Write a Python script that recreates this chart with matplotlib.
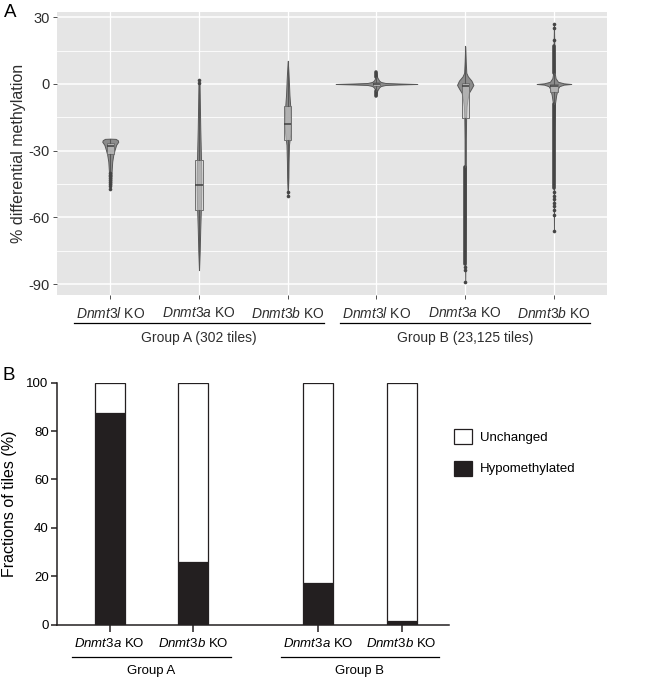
import matplotlib.pyplot as plt
from matplotlib.transforms import blended_transform_factory
from matplotlib.lines import Line2D

plt.rcParams['font.family'] = 'Liberation Sans'
plt.rcParams['mathtext.fontset'] = 'custom'
plt.rcParams['mathtext.rm'] = 'Liberation Sans'
plt.rcParams['mathtext.it'] = 'Liberation Sans:italic'
plt.rcParams['axes.unicode_minus'] = False

# ___ PANEL A DATA ___ #
GENES_A = ['Dnmt3l', 'Dnmt3a', 'Dnmt3b', 'Dnmt3l', 'Dnmt3a', 'Dnmt3b']
GROUP_NAMES_A = ['Group A (302 tiles)', 'Group B (23,125 tiles)']

# violin outlines: y (% diff. methylation) and half width (category units)
V1_Y = [-47.2, -45.4, -39.4, -34.9, -31.9, -29.6, -27.4, -26.0, -25.3, -24.7, -24.6]
V1_W = [0.0, 0.011, 0.015, 0.022, 0.034, 0.049, 0.066, 0.09, 0.085, 0.06, 0.0]
V2_Y = [1.9, 0.0, -10, -20, -30, -40, -45, -55, -65, -75, -83.6]
V2_W = [0.0, 0.006, 0.010, 0.014, 0.020, 0.025, 0.026, 0.022, 0.014, 0.008, 0.0]
V3_Y = [10.4, 5.0, 2.6, -4.9, -10, -15, -18, -22, -27.4, -35, -42, -50.2]
V3_W = [0.0, 0.008, 0.011, 0.019, 0.028, 0.033, 0.034, 0.030, 0.014, 0.009, 0.007, 0.0]
V4_Y = [-5.3, -3.0, -1.5, -0.9, -0.45, -0.23, 0.0, 0.23, 0.45, 0.9, 1.5, 3.0, 5.3]
V4_W = [0.0, 0.008, 0.03, 0.05, 0.10, 0.25, 0.46, 0.25, 0.10, 0.05, 0.03, 0.008, 0.0]
V5_Y = [16.9, 10, 5, 3.4, 1.5, -0.4, -2, -4, -7, -10, -15, -25, -60, -89.2]
V5_W = [0.0, 0.006, 0.012, 0.03, 0.07, 0.092, 0.07, 0.04, 0.025, 0.015, 0.010, 0.007, 0.006, 0.0]
V6_Y = [27, 15, 5, 2.6, 1.0, 0.3, 0.0, -0.3, -1.0, -2.0, -3.4, -5.0, -8.6, -20, -66.1]
V6_W = [0.0, 0.005, 0.008, 0.018, 0.045, 0.11, 0.195, 0.11, 0.06, 0.045, 0.035, 0.025, 0.012, 0.006, 0.0]

# boxplot statistics
BOX_Q3 = [-26.5, -34.1, -10.1, 0.9, 0.4, 0.0]
BOX_MED = [-27.8, -45.4, -17.9, 0.0, -0.7, -0.9]
BOX_Q1 = [-31.5, -56.6, -25.4, -1.0, -15.1, -3.5]
WHISK_HI = [-24.7, -1.0, 10.4, 3.0, 16.9, 5.0]
WHISK_LO = [-39.4, -83.6, -46.7, -3.0, -37.5, -8.8]

# outliers (single points) and dense runs of outliers
FLIERS = [
    [-40.0, -40.8, -41.6, -42.5, -43.3, -44.2, -45.0, -46.0, -47.2],
    [0.3, 1.9],
    [-48.4, -50.2],
    [],
    [-82.2, -83.5, -89.2],
    [19.9, 25.1, 27.0, -48.5, -50.3, -51.8, -53.5, -55.0, -56.5, -58.9, -66.1],
]
BAND_POS = [4, 4, 5, 6, 6]
BAND_LO = [3.0, -5.3, -81.0, 5.0, -47.0]
BAND_HI = [5.3, -3.0, -37.5, 17.3, -8.8]

# ___ PANEL B DATA ___ #
GENES_B = ['Dnmt3a', 'Dnmt3b', 'Dnmt3a', 'Dnmt3b']
GROUP_NAMES_B = ['Group A', 'Group B']
HYPO = [87.5, 25.8, 17.2, 1.6]
UNCHANGED = [12.5, 74.2, 82.8, 98.4]
POS_B = [1, 2, 3.5, 4.5]

VIOLIN_FILL = '#8c8c8c'
VIOLIN_EDGE = '#575757'
DOT = '#454545'
BG = '#e5e5e5'
TXT_A = '#2e2e2e'


def ko_label(gene):
    return r'$\it{' + gene + '}$ KO'


fig = plt.figure(figsize=(6.45, 6.79), dpi=100)

# ---------------- panel A ---------------- #
ax = fig.add_axes([0.0884, 0.5655, 0.853, 0.4172])
ax.set_facecolor(BG)
for s in ax.spines.values():
    s.set_visible(False)
ax.set_xlim(0.4, 6.6)
ax.set_ylim(-94.95, 32.5)
ax.set_yticks([-90, -60, -30, 0, 30])
ax.set_yticks([-75, -45, -15, 15], minor=True)
ax.set_xticks(range(1, 7))
ax.set_xticklabels([ko_label(g) for g in GENES_A])
ax.grid(which='major', axis='y', color='white', lw=1.1)
ax.grid(which='major', axis='x', color='white', lw=0.9)
ax.grid(which='minor', axis='y', color='white', lw=0.6)
ax.set_axisbelow(True)
ax.tick_params(which='major', length=3, width=0.6, color='#333333',
               labelsize=10.5, labelcolor=TXT_A)
ax.tick_params(axis='x', labelsize=10, pad=5)
ax.tick_params(axis='y', pad=2)
ax.tick_params(which='minor', length=0)
ax.set_ylabel('% differential methylation', fontsize=11.5, color=TXT_A, labelpad=2)

violins = [(V1_Y, V1_W), (V2_Y, V2_W), (V3_Y, V3_W),
           (V4_Y, V4_W), (V5_Y, V5_W), (V6_Y, V6_W)]
for i, (vy, vw) in enumerate(violins):
    x = i + 1
    ax.fill_betweenx(vy, [x - w for w in vw], [x + w for w in vw],
                     facecolor=VIOLIN_FILL, edgecolor=VIOLIN_EDGE, lw=0.7, zorder=2)

ax.vlines(BAND_POS, BAND_LO, BAND_HI, color=DOT, lw=2.6, capstyle='round', zorder=3)

stats = []
for i in range(6):
    stats.append(dict(q1=BOX_Q1[i], med=BOX_MED[i], q3=BOX_Q3[i],
                      whislo=WHISK_LO[i], whishi=WHISK_HI[i], fliers=FLIERS[i]))
ax.bxp(stats, positions=range(1, 7), widths=0.083, patch_artist=True,
       showcaps=False, manage_ticks=False,
       boxprops=dict(facecolor=(0.82, 0.82, 0.82, 0.55), edgecolor='#707070', lw=0.7),
       medianprops=dict(color='#404040', lw=1.1),
       whiskerprops=dict(color=VIOLIN_EDGE, lw=0.8),
       flierprops=dict(marker='o', ms=2.6, mfc=DOT, mec=DOT, mew=0),
       zorder=4)

fig.text(0.016, 0.981, 'A', fontsize=13.5, ha='center', va='center')

trA = blended_transform_factory(ax.transData, fig.transFigure)
for k, name in enumerate(GROUP_NAMES_A):
    x0, x1 = 3 * k + 1 - 0.41, 3 * k + 3 + 0.41
    fig.add_artist(Line2D([x0, x1], [0.5243, 0.5243], transform=trA, color='black', lw=0.9))
    fig.text(3 * k + 2, 0.502, name, transform=trA, ha='center', va='center',
             fontsize=10, color=TXT_A)

# ---------------- panel B ---------------- #
bx = fig.add_axes([0.0884, 0.080, 0.608, 0.3564])
bx.bar(POS_B, HYPO, width=0.36, color='#231f20', edgecolor='#231f20', lw=0.9,
       label='Hypomethylated', zorder=3)
bx.bar(POS_B, UNCHANGED, width=0.36, bottom=HYPO, color='white', edgecolor='#231f20',
       lw=0.9, label='Unchanged', zorder=3)
bx.set_xlim(0.37, 5.07)
bx.set_ylim(0, 100)
bx.set_yticks([0, 20, 40, 60, 80, 100])
bx.set_xticks(POS_B)
bx.set_xticklabels([ko_label(g) for g in GENES_B])
for s in ['top', 'right']:
    bx.spines[s].set_visible(False)
for s in ['left', 'bottom']:
    bx.spines[s].set_linewidth(1.1)
    bx.spines[s].set_color('#231f20')
bx.tick_params(axis='y', length=4, width=1.1, labelsize=9.5, pad=2, color='#231f20')
bx.tick_params(axis='x', length=5, width=1.1, labelsize=9.5, pad=4, color='#231f20')
bx.set_ylabel('Fractions of tiles (%)', fontsize=11.5, labelpad=7)

handles, labels = bx.get_legend_handles_labels()
bx.legend(handles[::-1], labels[::-1], loc='upper left', bbox_to_anchor=(0.704, 0.368),
          bbox_transform=fig.transFigure, frameon=False, fontsize=9.5,
          handlelength=1.37, handleheight=1.37, handletextpad=0.6,
          labelspacing=1.25, borderpad=0, borderaxespad=0)

fig.text(0.014, 0.447, 'B', fontsize=13.5, ha='center', va='center')

trB = blended_transform_factory(bx.transData, fig.transFigure)
for k, name in enumerate(GROUP_NAMES_B):
    x0, x1 = POS_B[2 * k] - 0.45, POS_B[2 * k + 1] + 0.45
    fig.add_artist(Line2D([x0, x1], [0.0324, 0.0324], transform=trB, color='black', lw=0.9))
    fig.text((POS_B[2 * k] + POS_B[2 * k + 1]) / 2, 0.0125, name, transform=trB,
             ha='center', va='center', fontsize=9.5)

fig.savefig('out.png', dpi=100)
